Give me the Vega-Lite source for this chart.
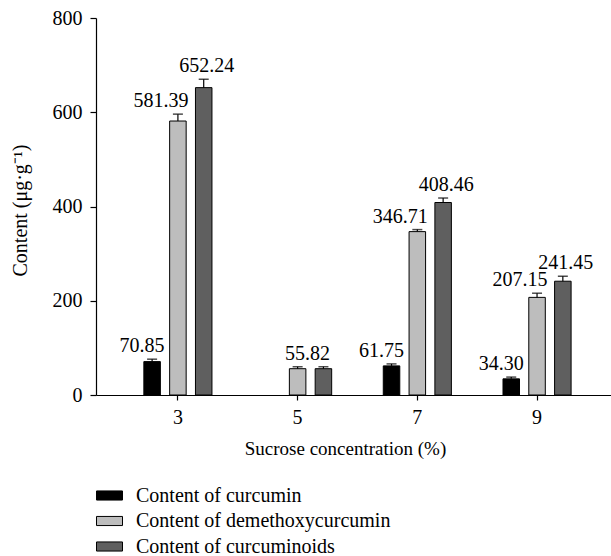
{
  "$schema": "https://vega.github.io/schema/vega-lite/v6.json",
  "width": 515,
  "height": 377,
  "autosize": {"type": "none"},
  "padding": {"left": 96, "top": 18, "right": 0, "bottom": 161},
  "background": "white",
  "config": {
    "view": {"stroke": null},
    "font": "Times New Roman, Liberation Serif, serif",
    "text": {"font": "Times New Roman, Liberation Serif, serif"},
    "axis": {
      "domainColor": "black",
      "tickColor": "black",
      "labelColor": "black",
      "titleColor": "black",
      "labelFont": "Times New Roman, Liberation Serif, serif",
      "titleFont": "Times New Roman, Liberation Serif, serif",
      "labelFontSize": 20,
      "titleFontSize": 19,
      "titleFontWeight": "normal",
      "grid": false,
      "domainWidth": 1.2,
      "tickWidth": 1.2
    },
    "legend": {
      "labelFont": "Times New Roman, Liberation Serif, serif",
      "labelFontSize": 20,
      "labelColor": "black"
    }
  },
  "data": {
    "values": [
      {"conc": 3, "series": "Content of curcumin", "value": 70.85, "upper": 76, "label": "70.85"},
      {"conc": 3, "series": "Content of demethoxycurcumin", "value": 581.39, "upper": 596, "label": "581.39"},
      {"conc": 3, "series": "Content of curcuminoids", "value": 652.24, "upper": 670, "label": "652.24"},
      {"conc": 5, "series": "Content of demethoxycurcumin", "value": 55.82, "upper": 60, "label": "55.82"},
      {"conc": 5, "series": "Content of curcuminoids", "value": 55.82, "upper": 60, "label": ""},
      {"conc": 7, "series": "Content of curcumin", "value": 61.75, "upper": 66, "label": "61.75"},
      {"conc": 7, "series": "Content of demethoxycurcumin", "value": 346.71, "upper": 351, "label": "346.71"},
      {"conc": 7, "series": "Content of curcuminoids", "value": 408.46, "upper": 418, "label": "408.46"},
      {"conc": 9, "series": "Content of curcumin", "value": 34.30, "upper": 38, "label": "34.30"},
      {"conc": 9, "series": "Content of demethoxycurcumin", "value": 207.15, "upper": 216, "label": "207.15"},
      {"conc": 9, "series": "Content of curcuminoids", "value": 241.45, "upper": 252, "label": "241.45"}
    ]
  },
  "encoding": {
    "x": {
      "field": "conc",
      "type": "ordinal",
      "scale": {"domain": [3, 5, 7, 9], "paddingInner": 0, "paddingOuter": 0.151, "align": 0.61},
      "axis": {
        "title": "Sucrose concentration (%)",
        "labelAngle": 0,
        "tickSize": 5,
        "labelPadding": 7,
        "titleX": 249,
        "titleY": 53,
        "titleBaseline": "middle"
      }
    },
    "xOffset": {
      "field": "series",
      "type": "nominal",
      "scale": {
        "domain": ["Content of curcumin", "Content of demethoxycurcumin", "Content of curcuminoids"],
        "paddingInner": 0.36,
        "paddingOuter": 1.18
      }
    }
  },
  "layer": [
    {
      "mark": {"type": "bar", "stroke": "black", "strokeWidth": 1},
      "encoding": {
        "y": {
          "field": "value",
          "type": "quantitative",
          "scale": {"domain": [0, 800], "nice": false},
          "axis": {
            "title": "Content (μg·g⁻¹)",
            "titleFontSize": 20,
            "values": [0, 200, 400, 600, 800],
            "tickSize": 6,
            "labelPadding": 8,
            "titleX": -66,
            "titleY": 192
          }
        },
        "color": {
          "field": "series",
          "type": "nominal",
          "scale": {
            "domain": ["Content of curcumin", "Content of demethoxycurcumin", "Content of curcuminoids"],
            "range": ["#000000", "#bdbdbd", "#5f5f5f"]
          },
          "legend": {
            "title": null,
            "orient": "none",
            "legendX": 0,
            "legendY": 464,
            "padding": 0,
            "symbolType": "M-1,-0.35H1V0.35H-1Z",
            "symbolSize": 676,
            "symbolStrokeColor": "black",
            "symbolStrokeWidth": 1,
            "symbolOpacity": 1,
            "labelOffset": 13,
            "rowPadding": 1.5,
            "labelLimit": 400
          }
        }
      }
    },
    {
      "mark": {"type": "rule", "color": "black", "strokeWidth": 1.2},
      "encoding": {
        "y": {"field": "value", "type": "quantitative"},
        "y2": {"field": "upper"}
      }
    },
    {
      "mark": {"type": "tick", "color": "black", "orient": "horizontal", "size": 10, "thickness": 1.5},
      "encoding": {
        "y": {"field": "upper", "type": "quantitative"}
      }
    },
    {
      "transform": [{"filter": "datum.series === 'Content of curcumin'"}],
      "mark": {"type": "text", "dx": -10, "dy": -7, "baseline": "alphabetic", "fontSize": 20, "color": "black"},
      "encoding": {"y": {"field": "upper", "type": "quantitative"}, "text": {"field": "label"}}
    },
    {
      "transform": [{"filter": "datum.series === 'Content of demethoxycurcumin' && datum.conc !== 5"}],
      "mark": {"type": "text", "dx": -17, "dy": -7, "baseline": "alphabetic", "fontSize": 20, "color": "black"},
      "encoding": {"y": {"field": "upper", "type": "quantitative"}, "text": {"field": "label"}}
    },
    {
      "transform": [{"filter": "datum.series === 'Content of demethoxycurcumin' && datum.conc === 5"}],
      "mark": {"type": "text", "dx": 10, "dy": -7, "baseline": "alphabetic", "fontSize": 20, "color": "black"},
      "encoding": {"y": {"field": "upper", "type": "quantitative"}, "text": {"field": "label"}}
    },
    {
      "transform": [{"filter": "datum.series === 'Content of curcuminoids'"}],
      "mark": {"type": "text", "dx": 3, "dy": -7, "baseline": "alphabetic", "fontSize": 20, "color": "black"},
      "encoding": {"y": {"field": "upper", "type": "quantitative"}, "text": {"field": "label"}}
    }
  ]
}
